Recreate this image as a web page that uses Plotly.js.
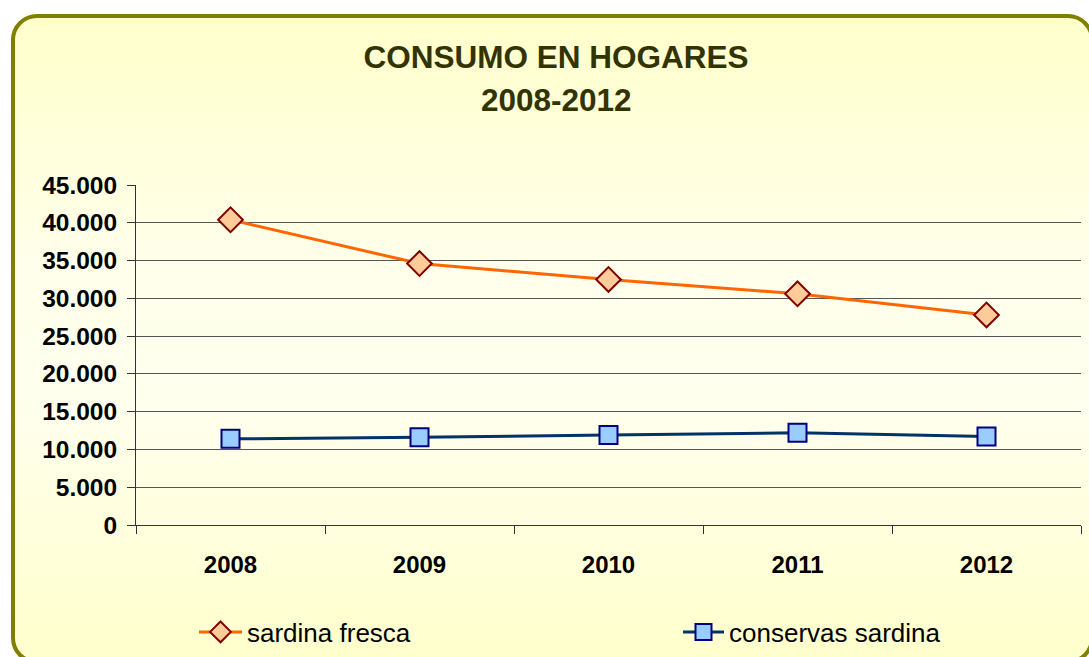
<!DOCTYPE html>
<html>
<head>
<meta charset="utf-8">
<script src="https://cdn.plot.ly/plotly-3.0.1.min.js"></script>
<style>
  html, body { margin:0; padding:0; background:#ffffff; width:1089px; height:657px; overflow:hidden; }
  #frame { position:absolute; left:11px; top:14px; width:1075px; height:642px; border:4px solid #808000; border-radius:26px;
           background:linear-gradient(to bottom, #FFFFCC 0%, #FFFFEC 40%, #FFFFEE 60%, #FFFFCC 100%); }
  #chart { position:absolute; left:0; top:0; width:1089px; height:657px; }
</style>
</head>
<body>
<div id="frame"></div>
<div id="chart"></div>
<script>
const years = ['2008', '2009', '2010', '2011', '2012'];
const sardinaFresca = [40400, 34600, 32500, 30600, 27800];
const conservasSardina = [11400, 11600, 11900, 12200, 11700];
const yTickVals = [0, 5000, 10000, 15000, 20000, 25000, 30000, 35000, 40000, 45000];
const yTickText = ['0', '5.000', '10.000', '15.000', '20.000', '25.000', '30.000', '35.000', '40.000', '45.000'];

const FONT = 'Liberation Sans, Arial, sans-serif';

const traces = [
  { x: years, y: sardinaFresca, name: 'sardina fresca', type: 'scatter', mode: 'lines+markers', legend: 'legend',
    line: { color: '#FF6600', width: 3 },
    marker: { symbol: 'diamond', size: 19, color: '#FFCC99', line: { color: '#800000', width: 2 } } },
  { x: years, y: conservasSardina, name: 'conservas sardina', type: 'scatter', mode: 'lines+markers', legend: 'legend2',
    line: { color: '#003366', width: 3 },
    marker: { symbol: 'square', size: 18, color: '#99CCFF', line: { color: '#000080', width: 2 } } }
];

const layout = {
  width: 1089, height: 657,
  paper_bgcolor: 'rgba(0,0,0,0)', plot_bgcolor: 'rgba(0,0,0,0)',
  margin: { l: 136, r: 8, t: 185, b: 132, autoexpand: false },
  font: { family: FONT, color: '#000000' },
  title: { text: '<b>CONSUMO EN HOGARES</b>', x: 556/1089, xanchor: 'center', xref: 'container',
           y: 1 - 57/657, yanchor: 'middle', yref: 'container',
           font: { size: 31.5, color: '#333300', family: FONT } },
  annotations: [
    { text: '<b>2008-2012</b>', xref: 'paper', yref: 'paper', x: (556-136)/945, y: (525-100)/340,
      xanchor: 'center', yanchor: 'middle', showarrow: false,
      font: { size: 31.5, color: '#333300', family: FONT } }
  ],
  xaxis: {
    type: 'category', range: [-0.5, 4.5], tickson: 'boundaries', ticks: 'outside', ticklen: 8, tickcolor: '#333333',
    showline: true, linecolor: '#333333', linewidth: 1, showgrid: false, zeroline: false,
    tickfont: { size: 24, family: FONT, weight: 'bold', color: '#000000' },
    ticklabelstandoff: 18
  },
  yaxis: {
    range: [0, 45000], tickvals: yTickVals, ticktext: yTickText, ticks: 'outside', ticklen: 8, tickcolor: '#333333',
    showline: true, linecolor: '#333333', linewidth: 1, showgrid: true, gridcolor: '#555555', gridwidth: 1, zeroline: false,
    tickfont: { size: 24.5, family: FONT, weight: 'bold', color: '#000000' },
    ticklabelstandoff: 5
  },
  showlegend: true,
  legend: { orientation: 'h', x: (194-136)/945, xanchor: 'left', y: (525-632)/340, yanchor: 'middle', itemwidth: 43,
            font: { size: 26, family: FONT, color: '#000000' }, bgcolor: 'rgba(0,0,0,0)' },
  legend2: { orientation: 'h', x: (678-136)/945, xanchor: 'left', y: (525-632)/340, yanchor: 'middle', itemwidth: 41,
            font: { size: 26, family: FONT, color: '#000000' }, bgcolor: 'rgba(0,0,0,0)' }
};

Plotly.newPlot('chart', traces, layout, { displayModeBar: false, staticPlot: true });
</script>
</body>
</html>
